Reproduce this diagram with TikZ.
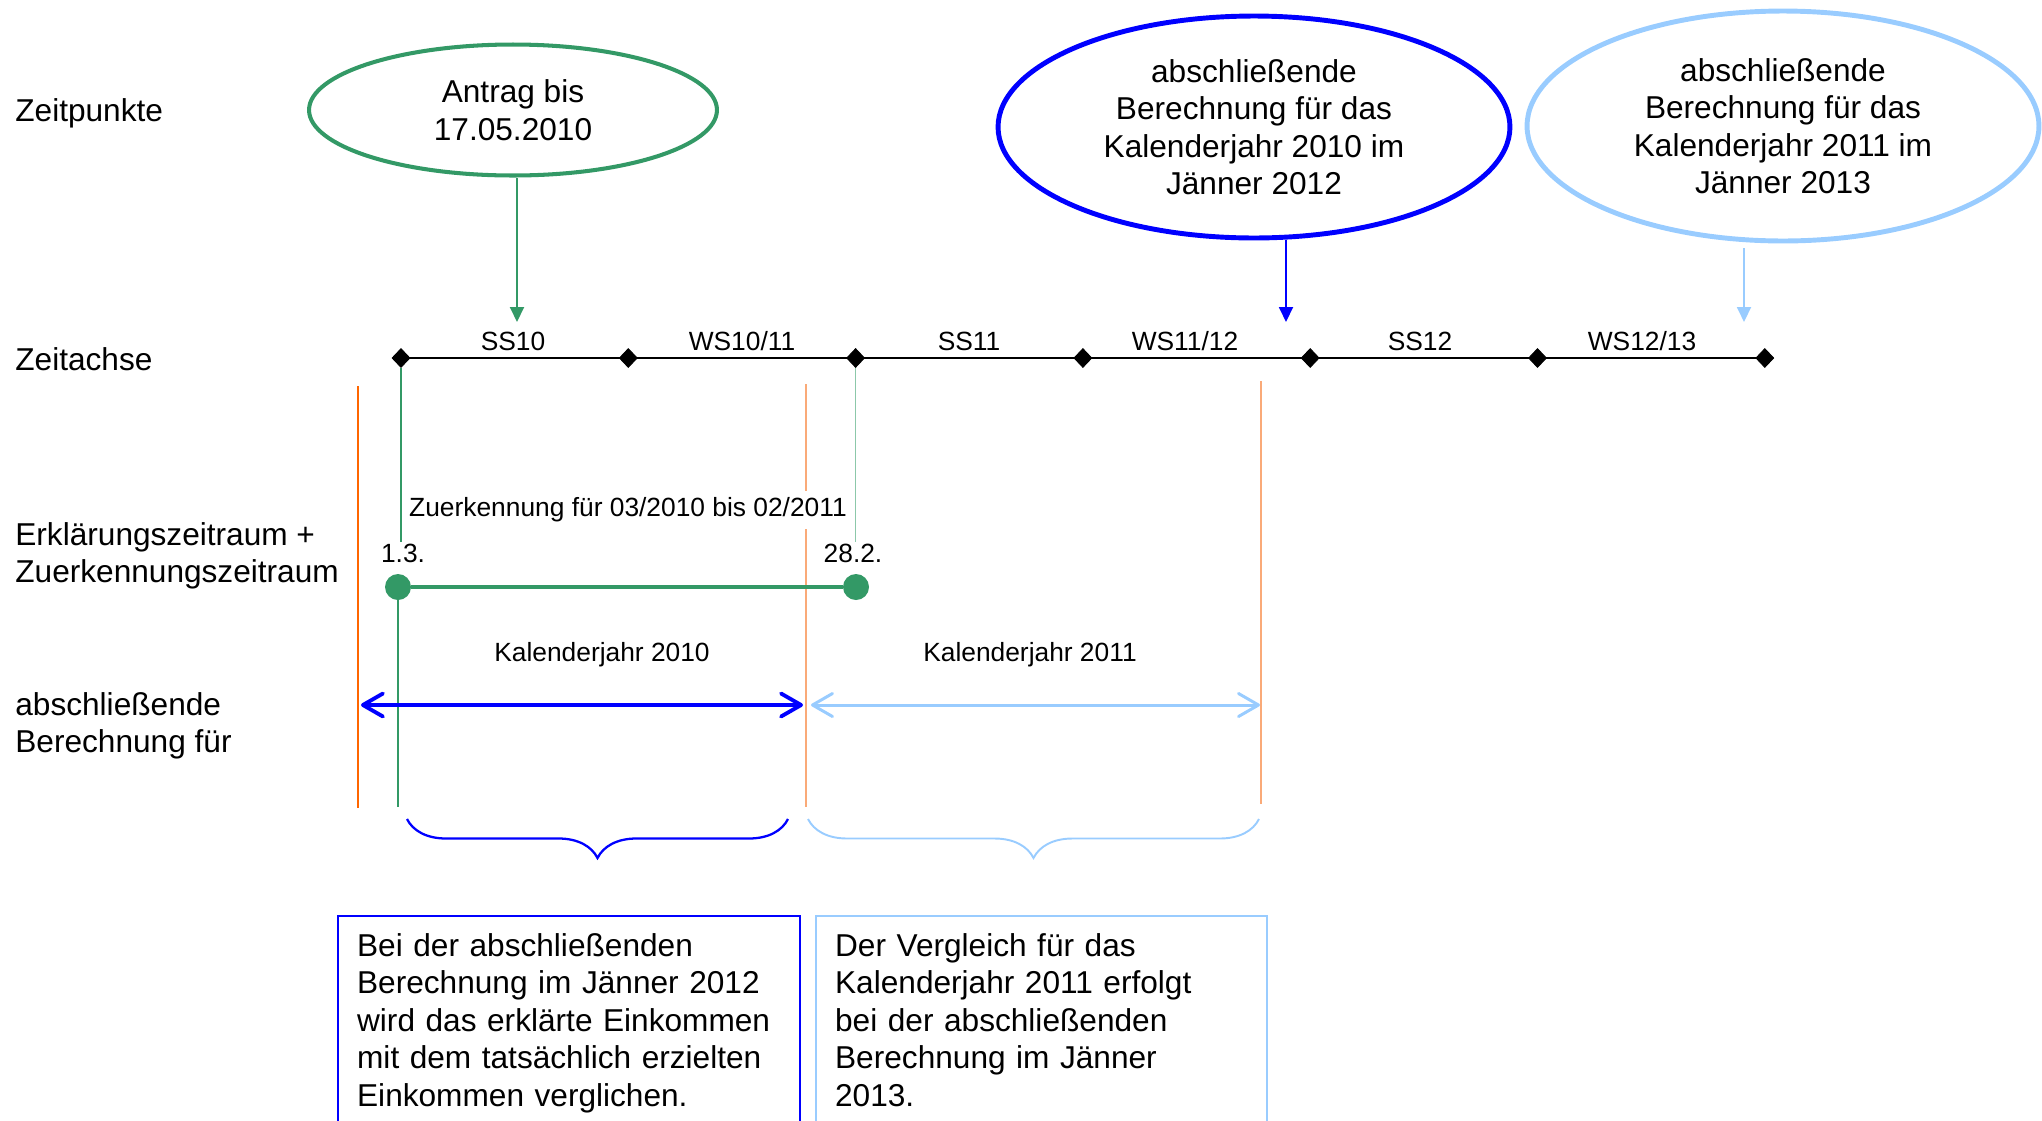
\documentclass[tikz,border=0pt]{standalone}
\usepackage{fontspec}
\setmainfont{Liberation Sans}
\usetikzlibrary{arrows.meta,shapes.geometric,decorations.pathreplacing}
\definecolor{antraggreen}{RGB}{51,153,102}
\definecolor{palegreen}{RGB}{140,200,170}
\definecolor{calblue}{RGB}{0,0,255}
\definecolor{callight}{RGB}{153,204,255}
\definecolor{darkorange}{RGB}{255,102,0}
\definecolor{paleorange}{RGB}{250,170,120}
\tikzset{
  bigtext/.style={font=\fontsize{18}{21.3}\selectfont},
  smalltext/.style={font=\fontsize{15}{18}\selectfont},
  rowlabel/.style={bigtext,align=left,inner sep=0pt},
  termin/.style={ellipse,draw,bigtext,align=center,inner sep=0pt},
  tick/.style={diamond,fill=black,draw=black,line width=0.5pt,inner sep=0pt,minimum width=0.36cm,minimum height=0.38cm},
  seglabel/.style={smalltext,anchor=base,inner sep=0pt},
  datelabel/.style={smalltext,anchor=base,inner sep=1pt},
  dot/.style={circle,fill=antraggreen,inner sep=0pt,minimum size=0.52cm},
  period/.style={line width=2.2pt,{Straight Barb[length=0.4cm,width=0.46cm,round]}-{Straight Barb[length=0.4cm,width=0.46cm,round]}},
  pointer/.style={line width=1.1pt,-{Triangle[length=0.3cm,width=0.28cm]}},
  guide/.style={line width=0.8pt},
  infobox/.style={draw,bigtext,anchor=north west,align=left,inner xsep=0.38cm,inner ysep=0.35cm,text depth=5cm},
  yearbrace/.style={decorate,decoration={brace,mirror,amplitude=0.78cm}},
}
\begin{document}
\begin{tikzpicture}[x=0.02cm,y=-0.02cm]
    \path[use as bounding box,clip] (0,0) rectangle (2042,1120);

    % row labels
    \node[rowlabel,anchor=base west] (zeitpunkte) at (15,121) {Zeitpunkte};
    \node[rowlabel,anchor=base west] (zeitachse) at (15,370) {Zeitachse};
    \node[rowlabel,anchor=west] (erkl) at (15,556) {Erklärungszeitraum +\\Zuerkennungszeitraum};
    \node[rowlabel,anchor=west] (absch) at (15,726) {abschließende\\Berechnung für};

    % time points
    \node[termin,draw=antraggreen,line width=2.3pt,minimum width=8.16cm,minimum height=2.62cm] (antrag) at (513,110) {Antrag bis\\17.05.2010};
    \node[termin,draw=calblue,line width=2.8pt,minimum width=10.24cm,minimum height=4.44cm] (ber10) at (1254,127) {abschließende\\Berechnung für das\\Kalenderjahr 2010 im\\Jänner 2012};
    \node[termin,draw=callight,line width=2.8pt,minimum width=10.24cm,minimum height=4.6cm] (ber11) at (1783,126) {abschließende\\Berechnung für das\\Kalenderjahr 2011 im\\Jänner 2013};

    % time axis
    \draw[line width=1.2pt] (401,358) -- (1765,358);
    \foreach \i in {0,...,6}
        \node[tick] (d\i) at ({401+227.3*\i},358) {};
    \node[seglabel] (ss10) at (513,350) {SS10};
    \node[seglabel] (ws1011) at (742,350) {WS10/11};
    \node[seglabel] (ss11) at (969,350) {SS11};
    \node[seglabel] (ws1112) at (1185,350) {WS11/12};
    \node[seglabel] (ss12) at (1420,350) {SS12};
    \node[seglabel] (ws1213) at (1642,350) {WS12/13};

    \coordinate (gtip) at (517,322);
    \coordinate (btip) at (1286,322);
    \coordinate (lstart) at (1744,248);
    \coordinate (ltip) at (1744,322);
    \draw[pointer,antraggreen] (antrag.south -| gtip) -- (gtip);
    \draw[pointer,calblue] (ber10.south -| btip) -- (btip);
    \draw[pointer,callight] (lstart) -- (ltip);

    % calendar year limits
    \draw[guide,darkorange] (358,386) -- (358,808);
    \draw[guide,paleorange] (806,384) -- (806,807);
    \draw[guide,paleorange] (1261,381) -- (1261,804);

    % declaration and award period
    \node[datelabel] (d13) at (403,562) {1.3.};
    \node[datelabel] (d282) at (853,562) {28.2.};
    \node[dot] (start) at (398,587) {};
    \node[dot] (ende) at (856,587) {};
    \coordinate (gbottom) at (398,807);
    \draw[guide,antraggreen] (d0.south) -- (d0.center |- d13.north);
    \draw[guide,palegreen] (d2.south) -- (d2.center |- d282.north);
    \draw[guide,antraggreen] (start) -- (gbottom);
    \draw[antraggreen,line width=2pt] (start) -- (ende);
    \node[smalltext,fill=white,inner sep=4pt] (zuerk) at (628,510) {Zuerkennung für 03/2010 bis 02/2011};

    % final calculation per calendar year
    \coordinate (k10a) at (361,705);
    \coordinate (k10b) at (803,705);
    \coordinate (k11a) at (811,705);
    \coordinate (k11b) at (1260,705);
    \draw[period,calblue] (k10a) -- (k10b);
    \draw[period,callight,line width=1.7pt] (k11a) -- (k11b);
    \node[seglabel] (kj10) at (602,661) {Kalenderjahr 2010};
    \node[seglabel] (kj11) at (1030,661) {Kalenderjahr 2011};

    \coordinate (b10a) at (407,819);
    \coordinate (b10b) at (788,819);
    \coordinate (b11a) at (808,819);
    \coordinate (b11b) at (1259,819);
    \draw[yearbrace,calblue,line width=1.3pt] (b10a) -- (b10b);
    \draw[yearbrace,callight,line width=1.1pt] (b11a) -- (b11b);

    \node[infobox,draw=calblue,line width=1.3pt,text width=8.48cm] (box10) at (337,915) {Bei der abschließenden\\Berechnung im Jänner 2012\\wird das erklärte Einkommen\\mit dem tatsächlich erzielten\\Einkommen verglichen.};
    \node[infobox,draw=callight,line width=1.3pt,text width=8.26cm] (box11) at (815,915) {Der Vergleich für das\\Kalenderjahr 2011 erfolgt\\bei der abschließenden\\Berechnung im Jänner\\2013.};
\end{tikzpicture}
\end{document}
